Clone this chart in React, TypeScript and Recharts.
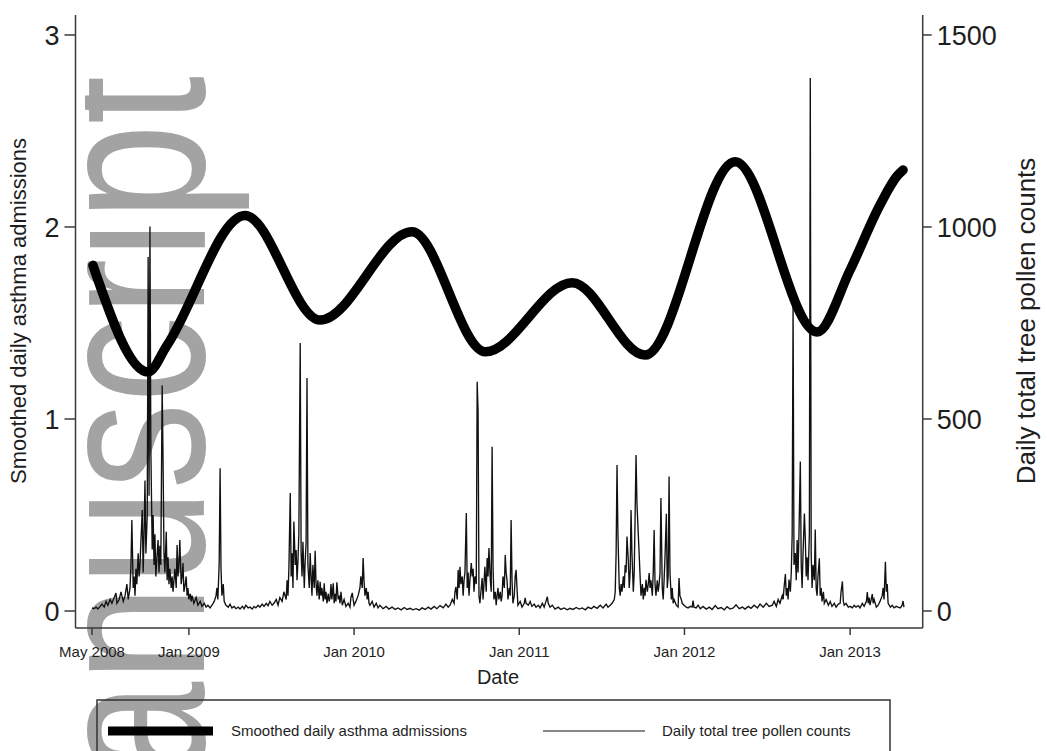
import React from 'react';
import { ComposedChart, Line, XAxis, YAxis } from 'recharts';

// ---- axis ticks (x in days since the start of the series, late May 2008) ----
const dayTicks = [0, 214, 579, 944, 1309, 1675];
const dayTickLabels = ['May 2008', 'Jan 2009', 'Jan 2010', 'Jan 2011', 'Jan 2012', 'Jan 2013'];
const admissionTicks = [0, 1, 2, 3];
const pollenTicks = [0, 500, 1000, 1500];

const seriesNames = ['Smoothed daily asthma admissions', 'Daily total tree pollen counts'];
const xTitle = 'Date';
const watermarkText = 'anuscript';

// ---- smoothed daily asthma admissions: [day, admissions] ----
const smoothedAdmissions: [number, number][] = [
  [2, 1.8], [124, 1.245], [166, 1.385], [338, 2.06], [504, 1.515], [707, 1.975],
  [869, 1.35], [1061, 1.71], [1222, 1.333], [1421, 2.34], [1602, 1.453], [1675, 1.776],
  [1741, 2.115], [1779, 2.266], [1792, 2.297],
];

// ---- daily total tree pollen counts: [day, count] ----
const pollen2008: [number, number][] = [
  [0,8],[4,6],[9,10],[13,5],[18,12],[22,18],[27,10],[31,25],[35,15],[40,30],[44,20],[49,35],[53,47],[55,20],[60,30],[64,50],[69,25],[73,40],[77,70],[80,30],[84,60],[86,120],[88,237],[91,60],[93,90],[95,40],[97,110],[99,70],[102,150],[104,90],[106,120],[108,180],[111,263],[113,100],[115,200],[117,340],[119,150],[122,250],[124,922],[126,300],[128,1001],[130,420],[133,160],[135,250],[137,120],[139,200],[141,90],[144,150],[146,185],[148,100],[150,170],[152,120],[155,588],[157,385],[159,150],[161,100],[164,206],[166,80],[168,140],[170,70],[172,110],[175,60],[177,90],[179,50],[181,80],[183,110],[186,60],[188,172],[190,90],[192,120],[194,185],[197,70],[199,90],[201,125],[203,50],[206,70],[208,90],[210,40],[212,60],[214,30],[217,45],[219,25],[221,40],[225,20],[230,35],[234,15],[239,25],[243,12],[248,20],[252,10],[256,15],[261,8],[265,15],[270,25],[274,40],[276,60],[278,30],[281,125],[283,372],[285,110],[287,40],[290,70],[292,25],[296,15],[301,10],[305,18],[309,8],[314,12],[318,6],[323,10],[327,5],[332,12],[336,6],[340,15],[345,8],[349,10],[354,5],[358,12],[362,8],[367,15],[371,10],[376,18],[380,12],[385,20],[389,14],[393,25],[398,15],[402,20],[407,30],[411,15],[415,35],[420,25],[424,50],[429,30],
];
const pollen2009: [number, number][] = [
  [431,80],[433,40],[435,110],[438,307],[440,90],[442,150],[444,60],[446,233],[449,120],[451,159],[453,80],[455,130],[457,200],[460,698],[462,150],[464,90],[466,180],[469,60],[471,130],[473,177],[475,607],[477,120],[480,60],[482,151],[484,90],[486,40],[488,120],[491,60],[493,157],[495,70],[497,40],[499,80],[502,30],[504,76],[506,40],[508,60],[511,25],[513,72],[515,30],[517,50],[519,20],[522,45],[524,25],[526,35],[528,70],[530,30],[533,72],[535,20],[537,45],[539,25],[541,75],[544,30],[546,40],[548,20],[550,50],[553,15],[557,30],[561,12],[566,20],[570,10],[572,35],[575,47],[577,30],[579,15],[583,25],[588,40],[592,60],[594,90],[597,60],[599,138],[601,80],[603,40],[606,60],[608,30],[610,50],[612,20],[614,15],[619,25],[623,10],[628,20],[632,8],[636,15],[643,6],[650,12],[656,5],[663,10],[670,4],[676,8],[683,3],[690,9],[696,4],[703,7],[709,3],[716,6],[723,2],[729,8],[736,4],[743,10],[749,5],[756,12],[762,6],[769,14],[776,8],[782,18],[787,10],
];
const pollen2010: [number, number][] = [
  [791,15],[796,30],[800,20],[802,50],[804,63],[807,30],[809,107],[811,60],[813,115],[815,70],[818,90],[820,40],[822,80],[824,100],[827,255],[829,60],[831,100],[833,40],[835,80],[838,125],[840,90],[842,110],[844,50],[846,90],[849,70],[851,597],[853,520],[855,40],[857,20],[860,60],[862,86],[864,30],[866,70],[868,115],[871,50],[873,138],[875,90],[877,164],[880,80],[882,50],[884,428],[886,120],[888,30],[891,50],[893,15],[895,40],[897,60],[899,30],[902,50],[904,25],[906,40],[908,90],[911,60],[913,146],[915,100],[917,80],[919,30],[922,60],[924,40],[926,237],[928,80],[930,20],[933,40],[935,90],[937,107],[939,60],[941,15],[946,25],[950,10],[955,20],[957,34],[959,20],[964,15],[968,25],[972,12],[977,18],[981,10],[986,15],[990,8],[995,20],[999,10],[1003,25],[1006,37],[1008,20],[1012,10],[1017,15],[1023,5],[1030,10],[1036,4],[1043,8],[1050,3],[1056,7],[1063,4],[1070,9],[1076,5],[1083,8],[1090,3],[1096,10],[1103,6],[1109,12],[1116,7],[1123,15],[1129,8],[1136,18],[1140,10],[1145,15],
];
const pollen2011: [number, number][] = [
  [1149,20],[1154,30],[1156,50],[1158,150],[1160,380],[1162,200],[1165,60],[1167,40],[1169,70],[1171,50],[1174,90],[1176,60],[1178,120],[1180,100],[1182,194],[1185,130],[1187,60],[1189,100],[1191,263],[1193,150],[1196,50],[1198,100],[1200,250],[1202,406],[1204,281],[1207,200],[1209,146],[1211,90],[1213,40],[1216,70],[1218,30],[1220,60],[1222,40],[1224,81],[1227,50],[1229,70],[1231,99],[1233,60],[1235,80],[1238,40],[1240,100],[1242,211],[1244,70],[1246,40],[1249,80],[1251,50],[1253,70],[1255,99],[1257,294],[1260,60],[1262,30],[1264,80],[1266,140],[1269,253],[1271,60],[1273,90],[1275,350],[1277,100],[1280,30],[1282,60],[1284,20],[1286,30],[1291,15],[1295,10],[1297,86],[1299,40],[1302,30],[1304,20],[1308,15],[1313,10],[1317,8],[1322,12],[1326,10],[1328,27],[1330,10],[1335,8],[1339,15],[1344,6],[1350,12],[1357,5],[1364,10],[1370,4],[1377,14],[1383,6],[1390,9],[1397,3],[1403,11],[1410,5],[1417,8],[1423,16],[1430,6],[1437,10],[1443,5],[1450,12],[1456,7],[1463,15],[1470,8],[1476,18],[1483,10],[1490,20],[1496,12],
];
const pollen2012: [number, number][] = [
  [1503,15],[1507,25],[1512,12],[1516,30],[1520,20],[1525,40],[1527,30],[1529,60],[1532,96],[1534,40],[1536,60],[1538,30],[1540,82],[1543,50],[1545,100],[1547,200],[1549,802],[1551,120],[1554,151],[1556,80],[1558,185],[1560,100],[1562,200],[1565,389],[1567,120],[1569,60],[1571,150],[1574,254],[1576,189],[1578,90],[1580,140],[1582,80],[1585,200],[1587,1388],[1589,150],[1591,60],[1593,120],[1596,80],[1598,212],[1600,60],[1602,40],[1604,90],[1607,137],[1609,40],[1611,60],[1613,25],[1616,50],[1618,20],[1622,30],[1627,15],[1631,25],[1635,12],[1640,20],[1644,10],[1649,18],[1653,20],[1655,50],[1658,77],[1660,25],[1662,15],[1666,20],[1671,10],[1675,12],[1680,8],[1684,15],[1688,10],[1693,14],[1697,8],[1702,20],[1706,12],[1711,25],[1713,49],[1715,20],[1717,35],[1719,15],[1724,44],[1726,20],[1728,30],[1733,10],[1737,15],[1741,25],[1746,40],[1748,60],[1750,30],[1753,128],[1755,50],[1757,70],[1759,20],[1764,10],[1768,15],[1772,8],[1777,12],[1781,10],[1786,8],[1790,15],[1792,26],[1794,10],
];

const smoothData = smoothedAdmissions.map(([day, v]) => ({ day, admissions: v }));
const pollenData = [...pollen2008, ...pollen2009, ...pollen2010, ...pollen2011, ...pollen2012].map(
  ([day, c]) => ({ day, pollen: c })
);

const FONT = '"Liberation Sans", Arial, Helvetica, sans-serif';
const AXIS = '#3a3a3a';
const TXT = '#1e1e1e';

const W = 1047;
const H = 751;

export default function App() {
  return (
    <div style={{ position: 'absolute', left: 0, top: 0, width: W, height: H, background: '#fff', overflow: 'hidden' }}>
      {/* watermark behind the chart */}
      <svg width={W} height={H} style={{ position: 'absolute', left: 0, top: 0 }}>
        <defs>
          <clipPath id="wmclip">
            <rect x={85} y={0} width={200} height={H} />
          </clipPath>
        </defs>
        <g clipPath="url(#wmclip)">
          <text
            transform="translate(204,778) rotate(-90)"
            fontFamily={FONT}
            fontSize={218}
            fill="#a3a3a3"
            textLength={702}
            lengthAdjust="spacingAndGlyphs"
          >
            {watermarkText}
          </text>
        </g>
      </svg>

      <div style={{ position: 'absolute', left: 0, top: 0 }}>
        <ComposedChart width={W} height={H} margin={{ top: 15, right: 0, bottom: 0, left: 0 }}>
          <XAxis
            dataKey="day"
            type="number"
            domain={[-36.5, 1835.4]}
            allowDataOverflow
            ticks={dayTicks}
            tickFormatter={(v: number) => dayTickLabels[dayTicks.indexOf(v)]}
            height={123}
            tickSize={7}
            tickMargin={11}
            stroke={AXIS}
            strokeWidth={1.5}
            tick={{ fontSize: 15, fill: TXT, fontFamily: FONT }}
            interval={0}
          />
          <YAxis
            yAxisId="left"
            orientation="left"
            type="number"
            domain={[-0.0885, 3.104]}
            allowDataOverflow
            ticks={admissionTicks}
            width={75.5}
            tickSize={11}
            tickMargin={5}
            stroke={AXIS}
            strokeWidth={1.5}
            tick={{ fontSize: 27, fill: TXT, fontFamily: FONT }}
            interval={0}
          />
          <YAxis
            yAxisId="right"
            orientation="right"
            type="number"
            domain={[-44.3, 1552]}
            allowDataOverflow
            ticks={pollenTicks}
            width={124.3}
            tickSize={9}
            tickMargin={5}
            stroke={AXIS}
            strokeWidth={1.5}
            tick={{ fontSize: 27, fill: TXT, fontFamily: FONT }}
            interval={0}
          />
          <Line
            yAxisId="right"
            data={pollenData}
            dataKey="pollen"
            type="linear"
            stroke="#111"
            strokeWidth={1.35}
            dot={false}
            activeDot={false}
            isAnimationActive={false}
          />
          <Line
            yAxisId="left"
            data={smoothData}
            dataKey="admissions"
            type="monotone"
            stroke="#000"
            strokeWidth={9.5}
            strokeLinecap="round"
            dot={false}
            activeDot={false}
            isAnimationActive={false}
          />
        </ComposedChart>
      </div>

      {/* axis titles and legend */}
      <svg width={W} height={H} style={{ position: 'absolute', left: 0, top: 0, pointerEvents: 'none' }}>
        <text transform="translate(26,311) rotate(-90)" textAnchor="middle" fontFamily={FONT} fontSize={22} fill={TXT}>
          {seriesNames[0]}
        </text>
        <text transform="translate(1035,321) rotate(-90)" textAnchor="middle" fontFamily={FONT} fontSize={26} fill={TXT}>
          {seriesNames[1]}
        </text>
        <text x={498} y={684} textAnchor="middle" fontFamily={FONT} fontSize={20} fill={TXT}>
          {xTitle}
        </text>
        <rect x={97} y={700} width={793} height={80} fill="none" stroke="#333" strokeWidth={1.5} />
        <line x1={108} y1={731} x2={213} y2={731} stroke="#000" strokeWidth={9} />
        <text x={231} y={736} fontFamily={FONT} fontSize={15} fill={TXT}>
          {seriesNames[0]}
        </text>
        <line x1={543} y1={731} x2={645} y2={731} stroke="#111" strokeWidth={1.2} />
        <text x={662} y={736} fontFamily={FONT} fontSize={15} fill={TXT}>
          {seriesNames[1]}
        </text>
      </svg>
    </div>
  );
}
